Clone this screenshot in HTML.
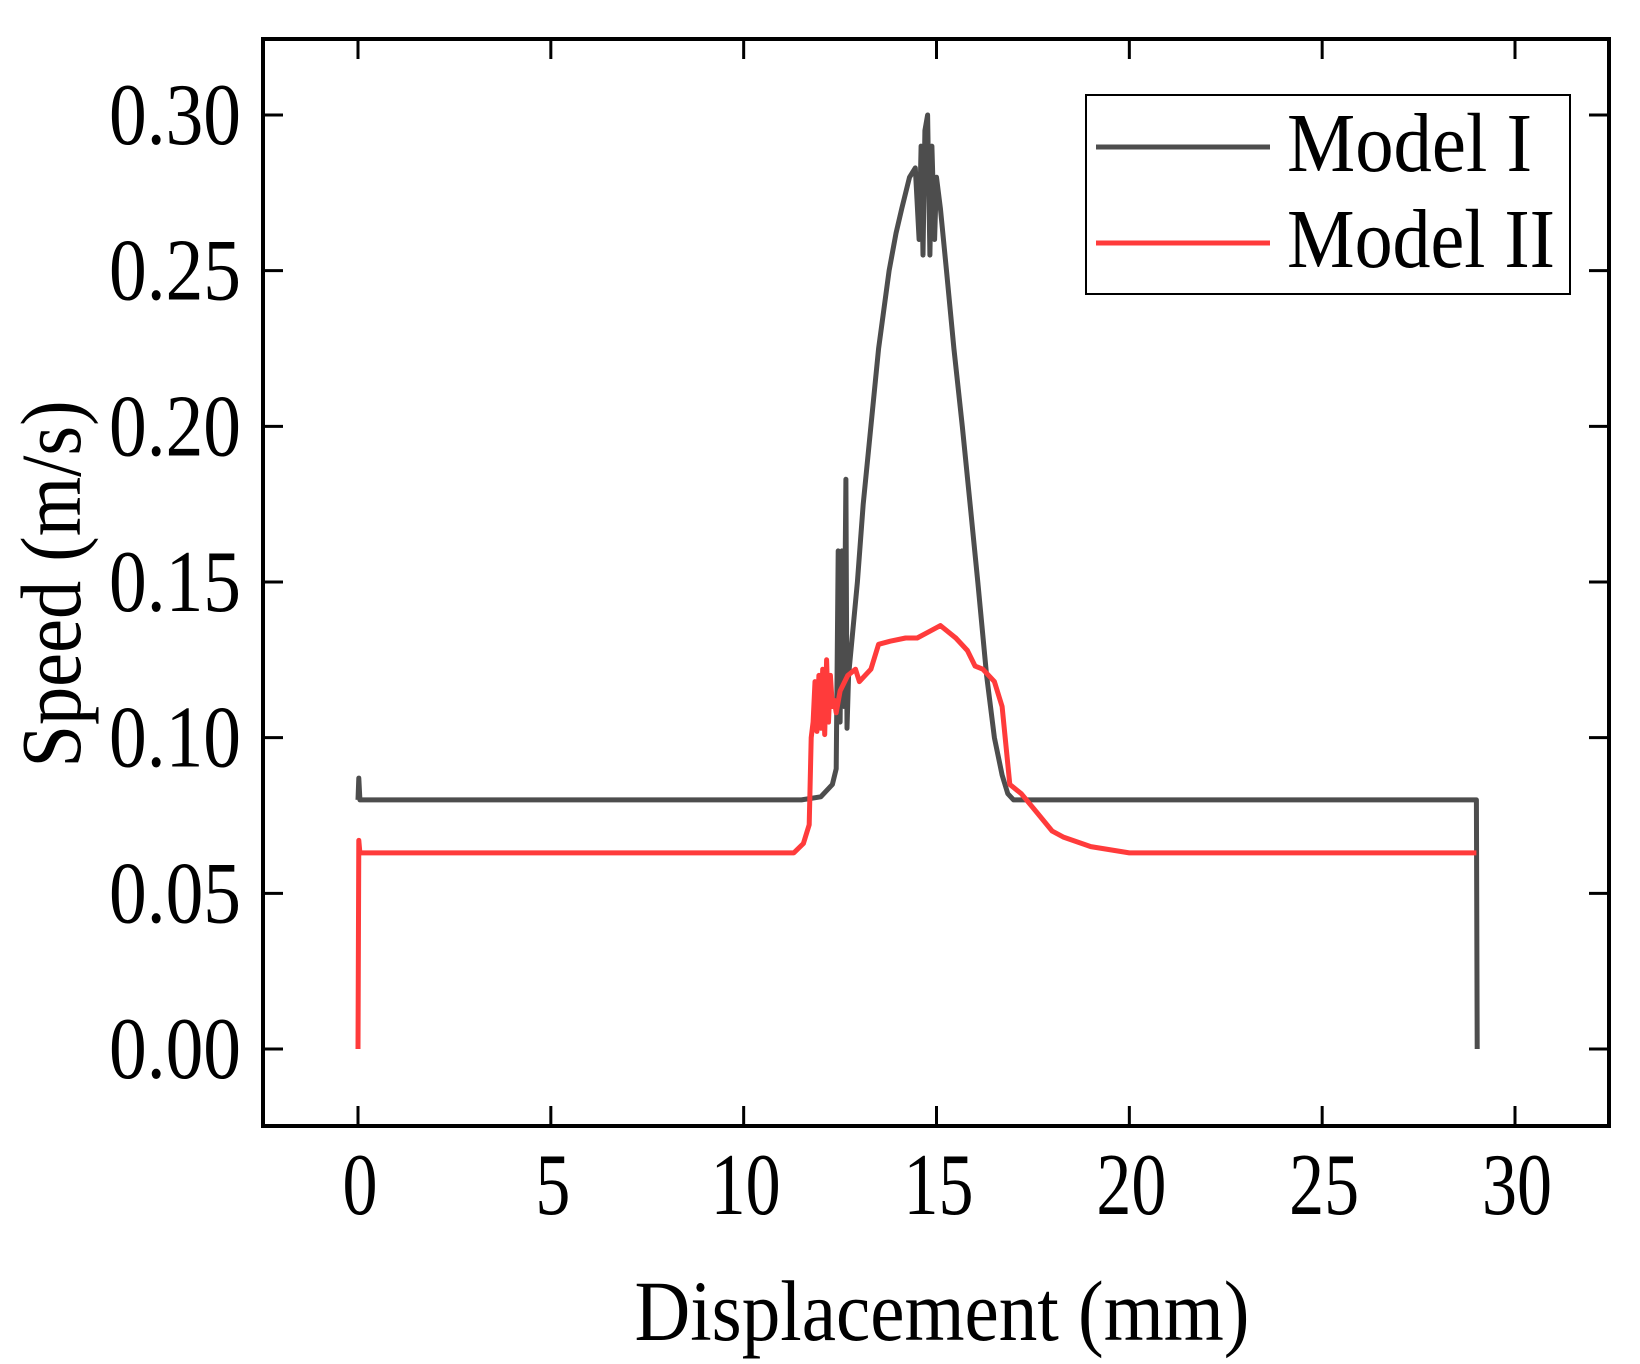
<!DOCTYPE html>
<html><head><meta charset="utf-8"><style>
html,body{margin:0;padding:0;background:#fff;}
svg{display:block;}
text{font-family:"Liberation Serif","Times New Roman",serif;fill:#000;}
</style></head><body>
<svg id="chart" width="1640" height="1364" viewBox="0 0 1640 1364" xmlns="http://www.w3.org/2000/svg">
<g id="ticks"></g>
<g id="series"></g>
<rect x="263" y="39" width="1346" height="1087" fill="none" stroke="#000" stroke-width="4"/>
<g id="labels"></g>
<text x="942" y="1340" font-size="86" text-anchor="middle" textLength="615" lengthAdjust="spacingAndGlyphs">Displacement (mm)</text>
<text transform="translate(80,584) rotate(-90)" font-size="86" text-anchor="middle" textLength="367" lengthAdjust="spacingAndGlyphs">Speed (m/s)</text>
<g>
<rect x="1086" y="95" width="484" height="199" fill="#fff" stroke="#000" stroke-width="2"/>
<line x1="1096" y1="147" x2="1270" y2="147" stroke="#4d4d4d" stroke-width="5"/>
<text x="1287" y="171" font-size="84" textLength="245" lengthAdjust="spacingAndGlyphs">Model I</text>
<line x1="1096" y1="243" x2="1270" y2="243" stroke="#ff3b3b" stroke-width="5"/>
<text x="1287" y="267" font-size="84" textLength="268" lengthAdjust="spacingAndGlyphs">Model II</text>
</g>
</svg>
<script>
const xTicks = [0,5,10,15,20,25,30];
const yTicks = [0,0.05,0.10,0.15,0.20,0.25,0.30];
const yTickLabels = ["0.00","0.05","0.10","0.15","0.20","0.25","0.30"];
const model1X = [0,0.02,0.05,0.1,11.5,12.0,12.3,12.4,12.45,12.5,12.55,12.6,12.65,12.68,12.72,12.95,13.1,13.3,13.5,13.77,13.95,14.1,14.3,14.45,14.55,14.6,14.65,14.7,14.77,14.83,14.88,14.95,15.0,15.1,15.26,15.45,15.67,15.87,16.07,16.3,16.5,16.7,16.85,17.0,29.0,29.02];
const model1Y = [0.08,0.087,0.08,0.08,0.08,0.081,0.085,0.09,0.16,0.105,0.16,0.11,0.183,0.103,0.12,0.15,0.175,0.20,0.225,0.25,0.262,0.27,0.28,0.283,0.26,0.29,0.255,0.295,0.30,0.255,0.29,0.26,0.28,0.27,0.25,0.225,0.20,0.175,0.15,0.12,0.10,0.088,0.082,0.08,0.08,0.0];
const model2X = [0,0.02,0.05,0.1,11.3,11.55,11.7,11.75,11.8,11.85,11.9,11.95,12.0,12.05,12.1,12.15,12.2,12.25,12.3,12.35,12.4,12.5,12.7,12.9,13.0,13.3,13.5,13.8,14.2,14.5,14.8,15.1,15.5,15.8,16.0,16.2,16.5,16.7,16.9,17.2,17.6,18.0,18.3,19.0,20.0,29.0];
const model2Y = [0.0,0.067,0.063,0.063,0.063,0.066,0.072,0.10,0.105,0.118,0.102,0.12,0.103,0.122,0.101,0.125,0.105,0.12,0.11,0.112,0.108,0.115,0.12,0.122,0.118,0.122,0.13,0.131,0.132,0.132,0.134,0.136,0.132,0.128,0.123,0.122,0.118,0.11,0.085,0.082,0.076,0.07,0.068,0.065,0.063,0.063];
const NS='http://www.w3.org/2000/svg';
function xs(v){return 358+v*(1515-358)/30;}
function ys(v){return 1049-v*(1049-115)/0.30;}
function mk(tag,attrs,parent){const e=document.createElementNS(NS,tag);for(const k in attrs)e.setAttribute(k,attrs[k]);parent.appendChild(e);return e;}
const tk=document.getElementById('ticks'), lb=document.getElementById('labels'), sr=document.getElementById('series');
xTicks.forEach(function(t){
  const a=mk('line',{x1:xs(t),x2:xs(t),y1:1126,y2:1106,stroke:'#000','stroke-width':3},tk);
  
  
  const b=mk('line',{x1:xs(t),x2:xs(t),y1:39,y2:59,stroke:'#000','stroke-width':3},tk);
  
  
  const s=String(t);
  const l=mk('text',{x:xs(t)+2,y:1214,'font-size':88,'text-anchor':'middle',textLength:s.length*35,lengthAdjust:'spacingAndGlyphs'},lb);
  l.textContent=s;
  
  
});
yTicks.forEach(function(t,i){
  const a=mk('line',{x1:263,x2:283,y1:ys(t),y2:ys(t),stroke:'#000','stroke-width':3},tk);
  
  
  const b=mk('line',{x1:1589,x2:1609,y1:ys(t),y2:ys(t),stroke:'#000','stroke-width':3},tk);
  
  
  const l=mk('text',{x:241,y:ys(t)+29,'font-size':88,'text-anchor':'end',textLength:132,lengthAdjust:'spacingAndGlyphs'},lb);
  l.textContent=yTickLabels[i];
  
  
});
function path(X,Y,color,name){
  let d='';X.forEach(function(x,i){d+=(i?'L':'M')+xs(x).toFixed(1)+','+ys(Y[i]).toFixed(1);});
  const p=mk('path',{d:d,fill:'none',stroke:color,'stroke-width':5,'stroke-linejoin':'round'},sr);
  
  
}
path(model1X,model1Y,'#4d4d4d','line-model-1');
path(model2X,model2Y,'#ff3b3b','line-model-2');
</script>
</body></html>
